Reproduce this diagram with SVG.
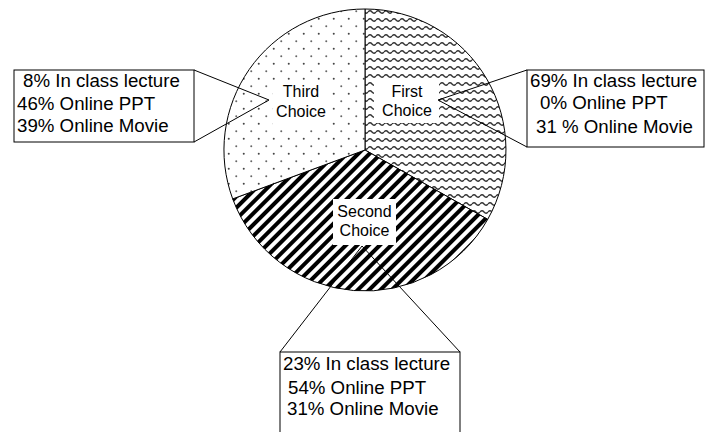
<svg xmlns="http://www.w3.org/2000/svg" width="713" height="432" viewBox="0 0 713 432">
<style>
text{font-family:"Liberation Sans",Arial,sans-serif;fill:#000}
.lbl{font-size:16px;text-anchor:middle}
.box{font-size:18.7px}
.slice{stroke:#000;stroke-width:1}
.cb{fill:#fff;stroke:#000;stroke-width:1}
.conn{stroke:#000;stroke-width:1;fill:none}
</style>
<defs>
<pattern id="waves" width="8" height="8" patternUnits="userSpaceOnUse">
<rect width="8" height="8" fill="#fff"/>
<path d="M0,4 Q2,1.5 4,4 T8,4" fill="none" stroke="#333" stroke-width="1.3"/>
</pattern>
<pattern id="dots" width="15" height="15" patternUnits="userSpaceOnUse">
<rect width="15" height="15" fill="#fff"/>
<circle cx="3.75" cy="3.75" r="1" fill="#444"/>
<circle cx="11.25" cy="11.25" r="1" fill="#666"/>
</pattern>
<pattern id="stripes" width="8" height="8" patternUnits="userSpaceOnUse" patternTransform="rotate(45)">
<rect width="8" height="8" fill="#fff"/>
<rect width="4" height="8" fill="#000"/>
</pattern>
</defs>
<rect width="713" height="432" fill="#fff"/>
<g id="first-choice">
<path class="slice" fill="url(#waves)" d="M365,150 L365,9 A141,141 0 0,1 487.7,219.4 Z"/>
<rect x="374" y="80" width="65" height="43" fill="#fff"/>
<text class="lbl" x="407" y="97">First</text>
<text class="lbl" x="407" y="116">Choice</text>
</g>
<g id="second-choice">
<path class="slice" fill="url(#stripes)" d="M365,150 L487.7,219.4 A141,141 0 0,1 232.7,198.9 Z"/>
<rect x="333" y="199" width="63" height="46" fill="#fff"/>
<text class="lbl" x="364.5" y="217">Second</text>
<text class="lbl" x="364.5" y="236">Choice</text>
</g>
<g id="third-choice">
<path class="slice" fill="url(#dots)" d="M365,150 L232.7,198.9 A141,141 0 0,1 365,9 Z"/>
<rect x="273" y="82" width="56" height="45" fill="#fff"/>
<text class="lbl" x="301" y="97">Third</text>
<text class="lbl" x="301" y="117">Choice</text>
</g>
<g id="connectors">
<polyline class="conn" points="194,70 269,100 194,142"/>
<polyline class="conn" points="527,70 438,100 527,147"/>
<polyline class="conn" points="280,352 362,246 460,352"/>
</g>
<g id="box-third">
<rect class="cb" x="14" y="70" width="180" height="72"/>
<text class="box" x="23" y="87">8% In class lecture</text>
<text class="box" x="17" y="110">46% Online PPT</text>
<text class="box" x="17" y="132">39% Online Movie</text>
</g>
<g id="box-first">
<rect class="cb" x="527" y="70" width="177" height="77"/>
<text class="box" x="530" y="87">69% In class lecture</text>
<text class="box" x="540" y="109">0% Online PPT</text>
<text class="box" x="536" y="133">31 % Online Movie</text>
</g>
<g id="box-second">
<rect class="cb" x="280" y="352" width="180" height="90"/>
<text class="box" x="283" y="370">23% In class lecture</text>
<text class="box" x="288" y="394">54% Online PPT</text>
<text class="box" x="287" y="415">31% Online Movie</text>
</g>
</svg>
